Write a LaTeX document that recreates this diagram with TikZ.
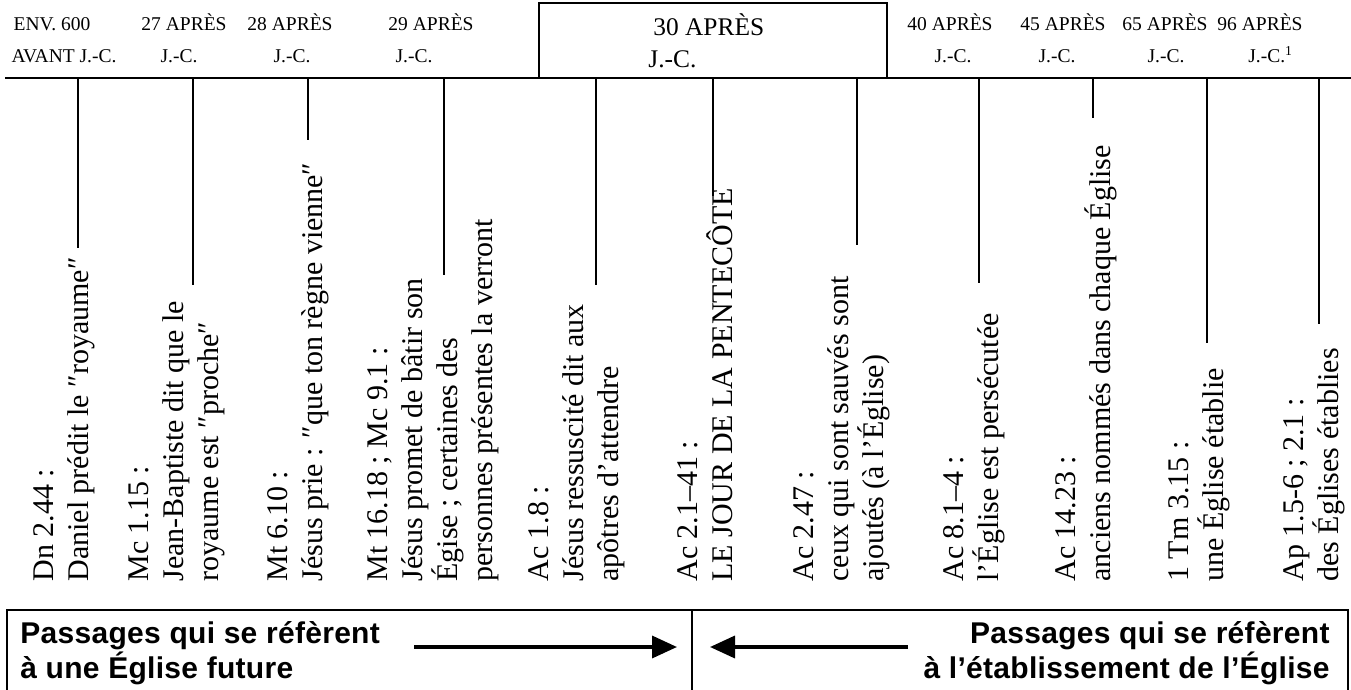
\documentclass[tikz,border=0pt]{standalone}
\usepackage{fontspec}
\setmainfont{Liberation Serif}
\newfontfamily\boxfont[LetterSpace=1]{Liberation Sans}
\usetikzlibrary{arrows.meta}
\tikzset{
  date/.style={font=\fontsize{9.75}{11}\selectfont, inner sep=0, anchor=base},
  bigdate/.style={font=\fontsize{12.7}{14}\selectfont, inner sep=0, anchor=base west},
  verse/.style={font=\fontsize{15}{17.5}\selectfont, align=left, rotate=90, anchor=north west, inner sep=0},
  tick/.style={line width=1pt},
  pass/.style={font=\boxfont\bfseries\fontsize{15}{15.5}\selectfont, inner sep=0},
}
\def\vstrut{\rule{0pt}{12pt}}

\begin{document}
\begin{tikzpicture}[x=0.5pt, y=-0.5pt]
	%%%%% START %%%%%
	\useasboundingbox (0,0) rectangle (1351,690);
	
	% timeline
	\coordinate (tl) at (5,78);
	\coordinate (tr) at (1351,78);
	\draw[line width=1.25pt] (tl) -- (tr);
	
	% 30 apres J.-C.
	\draw[line width=1.25pt] (539,3) rectangle (887,78);
	\node[bigdate] (ya30) at (653,36) {30 APRÈS};
	\node[bigdate] (yb30) at (648,68) {J.-C.};
	
	% dates
	\node[date] (ya0) at (52,31) {ENV. 600};
	\node[date] (yb0) at (64,63) {AVANT J.-C.};
	\foreach \xa/\xb/\yr [count=\i] in {184/179/27, 290/292/28, 431/414/29, 950/953/40, 1063/1057/45, 1165/1166/65} {
		\node[date] (ya\i) at (\xa,31) {\yr\ APRÈS};
		\node[date] (yb\i) at (\xb,63) {J.-C.};
	}
	\node[date] (ya7) at (1260,31) {96 APRÈS};
	\node[date, anchor=base west] (yb7) at (1248,63) {J.-C.\textsuperscript{1}};
	
	% ticks
	\foreach \x/\y [count=\i] in {78/248, 193/285, 308/140, 444/275, 596/285, 713/196, 857/245, 979/283, 1093/118, 1207/343, 1319/324} {
		\coordinate (up\i) at (\x,78);
		\coordinate (lo\i) at (\x,\y);
		\draw[tick] (up\i) -- (lo\i);
	}
	
	% passages
	\node[verse] (dn) at (29,582) {\vstrut Dn 2.44 :\\Daniel prédit le ″royaume″};
	\node[verse] (mc) at (124,582) {\vstrut Mc 1.15 :\\Jean-Baptiste dit que le\\royaume est ″proche″};
	\node[verse] (mta) at (263,582) {\vstrut Mt 6.10 :\\Jésus prie : ″que ton règne vienne″};
	\node[verse] (mtb) at (363,582) {\vstrut Mt 16.18 ; Mc 9.1 :\\Jésus promet de bâtir son\\Égise ; certaines des\\personnes présentes la verront};
	\node[verse] (aca) at (524,582) {\vstrut Ac 1.8 :\\Jésus ressuscité dit aux\\apôtres d’attendre};
	\node[verse] (acb) at (673,582) {\vstrut Ac 2.1–41 :\\LE JOUR DE LA PENTECÔTE};
	\node[verse] (acc) at (789,582) {\vstrut Ac 2.47 :\\ceux qui sont sauvés sont\\ajoutés (à l’Église)};
	\node[verse] (acd) at (939,582) {\vstrut Ac 8.1–4 :\\l’Église est persécutée};
	\node[verse] (ace) at (1051,582) {\vstrut Ac 14.23 :\\anciens nommés dans chaque Église};
	\node[verse] (tm) at (1164,582) {\vstrut 1 Tm 3.15 :\\une Église établie};
	\node[verse] (ap) at (1279,582) {\vstrut Ap 1.5-6 ; 2.1 :\\des Églises établies};
	
	% bottom box
	\draw[line width=1.25pt] (7,695) -- (7,610) -- (1348,610) -- (1348,695);
	\coordinate (mt) at (692,610);
	\coordinate (mb) at (692,695);
	\draw[line width=1pt] (mt) -- (mb);
	
	\node[pass, align=left, anchor=north west] (fut) at (20,619) {\vstrut Passages qui se réfèrent\\à une Église future};
	\node[pass, align=right, anchor=north east] (eta) at (1330,619) {\vstrut Passages qui se réfèrent\\à l’établissement de l’Église};
	
	\coordinate (la) at (414,647);
	\coordinate (lb) at (677,647);
	\coordinate (ra) at (908,647);
	\coordinate (rb) at (710,647);
	\draw[line width=1.75pt, -{Triangle[length=12.5pt, width=11pt]}] (la) -- (lb);
	\draw[line width=1.75pt, -{Triangle[length=12.5pt, width=11pt]}] (ra) -- (rb);
	
	%%%%% END %%%%%
\end{tikzpicture}
\end{document}
